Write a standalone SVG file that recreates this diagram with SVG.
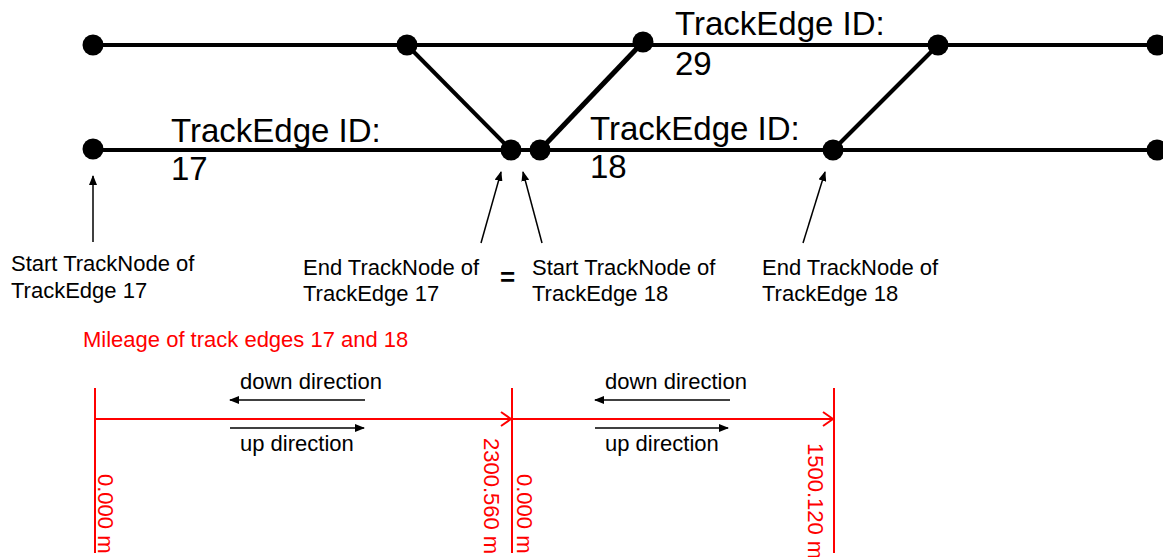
<svg xmlns="http://www.w3.org/2000/svg" width="1163" height="557" viewBox="0 0 1163 557">
<style>
.track{stroke:#000;stroke-width:4;fill:none}
.node{fill:#000}
.lbl{font-family:"Liberation Sans",Arial,sans-serif;fill:#000}
.big{font-size:33px}
.sm{font-size:22px}
.red{fill:#ff0000;font-family:"Liberation Sans",Arial,sans-serif;font-size:22px}
.ptr{stroke:#000;stroke-width:1.5;fill:none;marker-end:url(#ah)}
.rl{stroke:#ff0000;stroke-width:2;fill:none}
</style>
<defs>
<marker id="ah" markerWidth="10" markerHeight="8" refX="9" refY="4" orient="auto" markerUnits="userSpaceOnUse">
<path d="M0,0 L10,4 L0,8 Z" fill="#000"/>
</marker>
<marker id="rah" markerWidth="12" markerHeight="16" refX="11" refY="8" orient="auto" markerUnits="userSpaceOnUse">
<path d="M1,1 L11,8 L1,15" fill="none" stroke="#ff0000" stroke-width="2"/>
</marker>
</defs>
<g id="connectors">
<line class="track" x1="93" y1="45" x2="1163" y2="45"/>
<line class="track" x1="93" y1="150" x2="1163" y2="150"/>
<line class="track" x1="407" y1="45" x2="511" y2="150"/>
<line class="track" x1="643" y1="42" x2="540" y2="150" style="stroke-width:5"/>
<line class="track" x1="938" y1="45" x2="833" y2="150"/>
<line class="ptr" x1="93" y1="242" x2="93" y2="176"/>
<line class="ptr" x1="481" y1="243" x2="501" y2="172"/>
<line class="ptr" x1="542" y1="243" x2="523" y2="172"/>
<line class="ptr" x1="803" y1="243" x2="825" y2="172"/>
</g>
<g id="n-t1"><circle class="node" cx="93" cy="45" r="10.5"/></g>
<g id="n-t2"><circle class="node" cx="407" cy="45" r="10.5"/></g>
<g id="n-t3"><circle class="node" cx="643" cy="42" r="10.5"/></g>
<g id="n-t4"><circle class="node" cx="938" cy="45" r="10.5"/></g>
<g id="n-t5"><circle class="node" cx="1157" cy="45" r="10.5"/></g>
<g id="n-b1"><circle class="node" cx="93" cy="149" r="10.5"/></g>
<g id="n-b2"><circle class="node" cx="511" cy="150" r="10.5"/></g>
<g id="n-b3"><circle class="node" cx="540" cy="150" r="10.5"/></g>
<g id="n-b4"><circle class="node" cx="833" cy="150" r="10.5"/></g>
<g id="n-b5"><circle class="node" cx="1157" cy="150" r="10.5"/></g>
<g id="edge-labels">
<text class="lbl big" x="171" y="142">TrackEdge ID:</text>
<text class="lbl big" x="171" y="180">17</text>
<text class="lbl big" x="590" y="140">TrackEdge ID:</text>
<text class="lbl big" x="590" y="178">18</text>
<text class="lbl big" x="675" y="35">TrackEdge ID:</text>
<text class="lbl big" x="675" y="75">29</text>
</g>
<g id="node-labels">
<text class="lbl sm" x="11" y="271">Start TrackNode of</text>
<text class="lbl sm" x="11" y="298">TrackEdge 17</text>
<text class="lbl sm" x="303" y="275">End TrackNode of</text>
<text class="lbl sm" x="303" y="301">TrackEdge 17</text>
<text class="lbl" x="500" y="286" style="font-size:26px;font-weight:bold">=</text>
<text class="lbl sm" x="532" y="275">Start TrackNode of</text>
<text class="lbl sm" x="532" y="301">TrackEdge 18</text>
<text class="lbl sm" x="762" y="275">End TrackNode of</text>
<text class="lbl sm" x="762" y="301">TrackEdge 18</text>
</g>
<g id="mileage">
<text class="red" x="83" y="347">Mileage of track edges 17 and 18</text>
<line class="rl" x1="95" y1="388" x2="95" y2="553"/>
<line class="rl" x1="512" y1="388" x2="512" y2="553"/>
<line class="rl" x1="834" y1="388" x2="834" y2="553"/>
<line class="rl" x1="95" y1="419" x2="511" y2="419" marker-end="url(#rah)"/>
<line class="rl" x1="512" y1="419" x2="833" y2="419" marker-end="url(#rah)"/>
<text class="red" transform="translate(98,474) rotate(90)">0.000 m</text>
<text class="red" transform="translate(484,438) rotate(90)">2300.560 m</text>
<text class="red" transform="translate(517,474) rotate(90)">0.000 m</text>
<text class="red" transform="translate(808,443) rotate(90)">1500.120 m</text>
</g>
<g id="directions">
<text class="lbl sm" x="240" y="389">down direction</text>
<line class="ptr" x1="365" y1="400" x2="230" y2="400"/>
<line class="ptr" x1="230" y1="428" x2="364" y2="428"/>
<text class="lbl sm" x="240" y="451">up direction</text>
<text class="lbl sm" x="605" y="389">down direction</text>
<line class="ptr" x1="730" y1="400" x2="595" y2="400"/>
<line class="ptr" x1="595" y1="428" x2="728" y2="428"/>
<text class="lbl sm" x="605" y="451">up direction</text>
</g>
</svg>
